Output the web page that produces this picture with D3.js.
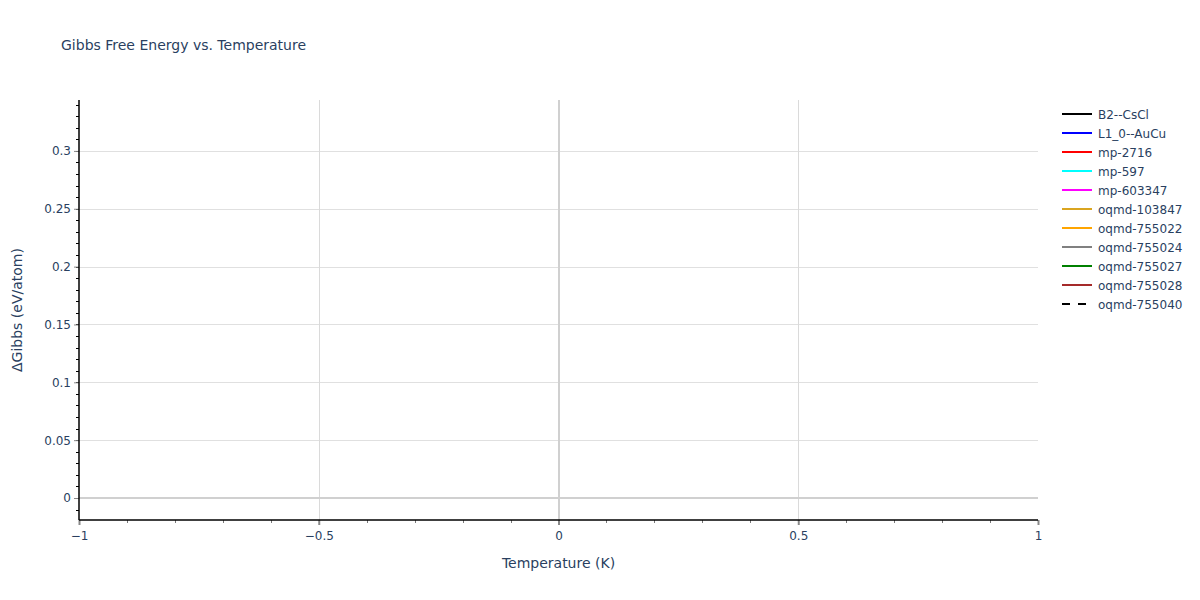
<!DOCTYPE html>
<html>
<head>
<meta charset="utf-8">
<script src="https://cdn.jsdelivr.net/npm/d3@7"></script>
<style>
  body { margin: 0; background: #fff; }
  text { font-family: "DejaVu Sans", Verdana, sans-serif; fill: #2a3f5f; }
</style>
</head>
<body>
<script>
// series names and colours, in legend order
var seriesNames = ["B2--CsCl", "L1_0--AuCu", "mp-2716", "mp-597", "mp-603347",
                   "oqmd-103847", "oqmd-755022", "oqmd-755024", "oqmd-755027",
                   "oqmd-755028", "oqmd-755040"];
var seriesColors = ["black", "blue", "red", "cyan", "magenta",
                    "goldenrod", "orange", "gray", "green", "brown", "black"];
var seriesDashed = [false, false, false, false, false, false, false, false, false, false, true];

// no points are visible in the picture: every series is empty
var temperatures = [];
var seriesValues = [[], [], [], [], [], [], [], [], [], [], []];

// axis ranges and ticks
var xDomain = [-1, 1];
var yDomain = [-0.019, 0.344];
var xTicks = [-1, -0.5, 0, 0.5, 1];
var yTicks = [0, 0.05, 0.1, 0.15, 0.2, 0.25, 0.3];

var margin = {top: 100, right: 162, bottom: 80, left: 79};
var outer_width = 1200;
var outer_height = 600;
var w = outer_width - margin.left - margin.right;
var h = outer_height - margin.top - margin.bottom;

var root = d3.select("body").append("svg")
    .attr("width", outer_width)
    .attr("height", outer_height);

var svg = root.append("g")
    .attr("transform", "translate(" + margin.left + "," + margin.top + ")");

var xScale = d3.scaleLinear().domain(xDomain).range([0, w]);
var yScale = d3.scaleLinear().domain(yDomain).range([h, 0]);

function crisp(v) { return Math.round(v) + 0.5; }

// grid lines
svg.append("g").selectAll("line")
    .data(yTicks.filter(function(d) { return d !== 0; }))
    .enter().append("line")
    .attr("x1", 0).attr("x2", w)
    .attr("y1", function(d) { return crisp(yScale(d)); })
    .attr("y2", function(d) { return crisp(yScale(d)); })
    .style("stroke", "#e0e0e0").style("stroke-width", 1);

svg.append("g").selectAll("line")
    .data(xTicks.filter(function(d) { return d !== 0 && d !== -1 && d !== 1; }))
    .enter().append("line")
    .attr("y1", 0).attr("y2", h)
    .attr("x1", function(d) { return crisp(xScale(d)); })
    .attr("x2", function(d) { return crisp(xScale(d)); })
    .style("stroke", "#dadada").style("stroke-width", 1);

// zero lines
svg.append("line")
    .attr("x1", 0).attr("x2", w)
    .attr("y1", Math.round(yScale(0))).attr("y2", Math.round(yScale(0)))
    .style("stroke", "#d0d0d0").style("stroke-width", 2);
svg.append("line")
    .attr("y1", 0).attr("y2", h)
    .attr("x1", Math.round(xScale(0))).attr("x2", Math.round(xScale(0)))
    .style("stroke", "#d0d0d0").style("stroke-width", 2);

// series lines
var line = d3.line()
    .x(function(d, i) { return xScale(temperatures[i]); })
    .y(function(d) { return yScale(d); });

svg.append("g").selectAll("path")
    .data(seriesValues)
    .enter().append("path")
    .attr("d", function(d) { return d.length ? line(d) : null; })
    .style("fill", "none")
    .style("stroke", function(d, i) { return seriesColors[i]; })
    .style("stroke-width", 2)
    .style("stroke-dasharray", function(d, i) { return seriesDashed[i] ? "6,6" : null; });

// minor ticks
var yMinor = d3.range(-1, 35).map(function(d) { return d / 100; })
    .filter(function(d) { return d >= yDomain[0] && d <= yDomain[1]; });
svg.append("g").selectAll("line")
    .data(yMinor)
    .enter().append("line")
    .attr("x1", -3).attr("x2", 0)
    .attr("y1", function(d) { return crisp(yScale(d)); })
    .attr("y2", function(d) { return crisp(yScale(d)); })
    .style("stroke", "#000").style("stroke-width", 1);

var xMinor = d3.range(-10, 11).map(function(d) { return d / 10; });
svg.append("g").selectAll("line")
    .data(xMinor)
    .enter().append("line")
    .attr("y1", h).attr("y2", h + 3)
    .attr("x1", function(d) { return crisp(xScale(d)); })
    .attr("x2", function(d) { return crisp(xScale(d)); })
    .style("stroke", "#777").style("stroke-width", 1);

// axes
var yAxis = d3.axisLeft(yScale).tickValues(yTicks).tickSize(5).tickPadding(3)
    .tickFormat(function(d) { return d3.format("")(d); });
var xAxis = d3.axisBottom(xScale).tickValues(xTicks).tickSize(5).tickPadding(6)
    .tickFormat(function(d) { return d3.format("")(d).replace("-", "\u2212"); });

var gy = svg.append("g").attr("class", "axis").call(yAxis);
gy.select(".domain").remove();
gy.selectAll(".tick line").style("stroke", "#888");
gy.selectAll("text").style("font-size", "12px").style("font-family", null);

var gx = svg.append("g").attr("class", "axis")
    .attr("transform", "translate(0," + h + ")").call(xAxis);
gx.select(".domain").remove();
gx.selectAll(".tick line").style("stroke", "#888").style("stroke-width", 2);
gx.selectAll("text").style("font-size", "12px").style("font-family", null);

// axis lines
svg.append("line").attr("x1", 0).attr("x2", 0).attr("y1", 0).attr("y2", h)
    .style("stroke", "#000").style("stroke-width", 1.5);
svg.append("line").attr("x1", 0).attr("x2", w).attr("y1", h).attr("y2", h)
    .style("stroke", "#000").style("stroke-width", 1.5);

// titles
root.append("text")
    .attr("x", 61).attr("y", 50)
    .style("font-size", "14px")
    .text("Gibbs Free Energy vs. Temperature");

root.append("text")
    .attr("x", margin.left + w / 2).attr("y", 568)
    .attr("text-anchor", "middle")
    .style("font-size", "14px")
    .text("Temperature (K)");

root.append("text")
    .attr("transform", "translate(22," + (margin.top + h / 2) + ") rotate(-90)")
    .attr("text-anchor", "middle")
    .style("font-size", "14px")
    .text("\u0394Gibbs (eV/atom)");

// legend
var legend = root.append("g").attr("transform", "translate(1062,114)");
var items = legend.selectAll("g")
    .data(seriesNames)
    .enter().append("g")
    .attr("transform", function(d, i) { return "translate(0," + (i * 19) + ")"; });

items.append("line")
    .attr("x1", 0).attr("x2", 30).attr("y1", 0).attr("y2", 0)
    .style("stroke", function(d, i) { return seriesColors[i]; })
    .style("stroke-width", 2)
    .style("stroke-dasharray", function(d, i) { return seriesDashed[i] ? "8,8" : null; });

items.append("text")
    .attr("x", 36).attr("y", 4.5)
    .style("font-size", "12px")
    .text(function(d) { return d; });
</script>
</body>
</html>
